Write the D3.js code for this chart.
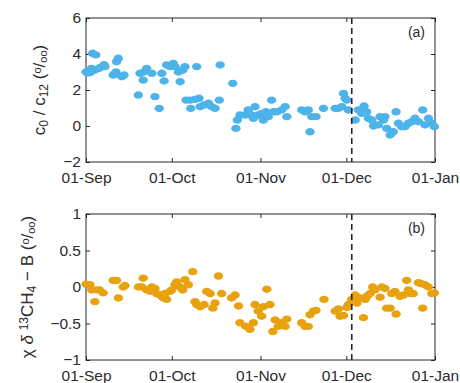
<!DOCTYPE html>
<html>
<head>
<meta charset="utf-8">
<script src="https://cdn.jsdelivr.net/npm/d3@7"></script>
<style>
  body { margin: 0; background: #fff; }
  svg text { font-family: "Liberation Sans", Arial, sans-serif; fill: #2b2b2b; }
  .axis path, .axis line { stroke: #262626; }
</style>
</head>
<body>
<svg id="chart" width="460" height="383"></svg>
<script>
/************************************************ Data (days after 01-Sep) ***********************************/

var daysA = [0, 0.5, 1.4, 1.9, 2.3, 3.1, 3.4, 4.5, 4.9, 6.3, 6.6, 9.5, 10, 10.5, 10.7, 11.3, 12.5, 13.3,
  18.3, 18.9, 20, 20.3, 21.2, 23, 24.1, 25.6, 26.5, 27.3, 28.2, 29.4, 30.5, 31.1, 32.3, 32.9, 33.8, 34.6,
  35, 36.4, 36.6, 38.1, 38.7, 39.5, 39.9, 41.3, 42.8, 43.9, 45.1, 46.6, 46.9, 51.3, 52.4, 52.9, 53.8,
  55.6, 56.7, 57.9, 58.5, 59.1, 60.2, 61.4, 62, 62.9, 63.7, 64.9, 65.5, 66.7, 68.4, 69.6, 70.2,
  75.4, 76.6, 77.7, 78.3, 78.9, 80.4, 83, 87.1, 88.2, 89.4, 90, 90.6, 91.2, 91.7, 94.1, 95.2, 96.4,
  97.2, 98.1, 98.7, 99.9, 100.5, 102.2, 102.8, 104, 104.5, 105.1, 106.3, 107.4, 108.4, 109.2, 110.4,
  111.5, 112.7, 113.9, 115, 116.2, 117.7, 118.5, 119.7, 120.9, 121.8];
var valuesA = [3.0, 2.95, 2.96, 3.2, 4.04, 3.1, 3.95, 3.2, 3.25, 3.4, 3.3, 2.83, 2.9, 3.0, 3.57, 3.76, 2.74, 2.83,
  1.72, 2.93, 2.55, 3.0, 3.2, 2.93, 1.63, 0.98, 2.93, 2.5, 3.39, 3.3, 3.48, 3.3, 3.0, 2.46, 3.1, 3.3,
  1.44, 1.44, 0.98, 1.48, 3.3, 1.54, 1.07, 1.17, 1.26, 1.07, 0.98, 1.44, 3.39, 2.37, -0.13, 0.33, 0.61,
  0.61, 0.89, 0.61, 0.43, 1.07, 0.61, 0.7, 0.33, 0.79, 0.52, 1.44, 0.79, 0.79, 0.89, 1.07, 0.52,
  0.89, 0.79, 0.89, -0.32, 0.52, 0.52, 0.98, 0.98, 0.98, 1.07, 1.81, 1.54, 1.44, 0.89, 0.33, 0.89, 0.7,
  1.11, 0.79, 0.43, 0.33, 0.0, 0.06, 0.52, 0.33, 0.52, -0.13, -0.5, -0.32, 0.79, 0.15, -0.04,
  -0.04, 0.15, 0.24, 0.43, 0.24, 0.89, 0.06, 0.43, 0.15, -0.04];

var daysB = [0, 1.4, 2, 3.1, 3.7, 4.7, 6, 9.5, 10.7, 11.3, 13, 13.6, 18.3, 19.5, 20, 21.2, 22.4, 23, 24.1,
  24.7, 25.9, 27, 27.6, 28.2, 29.4, 30, 31.1, 31.7, 32.9, 33.8, 34.6, 35.8, 37.3, 38.1, 38.7, 39.9, 41.3,
  42.2, 43.4, 44.3, 45.1, 46.3, 47.4, 50.9, 52.1, 53.3, 53.8, 55.9, 57.3, 58.5, 59.1, 60.2, 61.4, 62,
  63.2, 64.3, 65.3, 66.1, 67.2, 68.4, 69.6, 70.2, 75.4, 76.6, 77.7, 78.3, 79.5, 80.4, 83.2, 87.1, 88.2,
  88.8, 90, 91.2, 91.7, 92.9, 94.1, 94.7, 95.8, 97, 97.6, 98.4, 99.3, 100.2, 101, 102.8, 103.4, 104.5,
  105.1, 106.3, 106.9, 108, 108.4, 109.8, 110.9, 112.1, 112.7, 113.5, 114.4, 116.2, 117, 117.7, 118.5,
  119.7, 120.9, 121.8];
var valuesB = [0.04, 0.03, -0.04, -0.2, -0.04, -0.04, -0.08, 0.09, 0.09, -0.15, 0.0, 0.02, 0.0, 0.0, 0.12, -0.04, -0.06, 0.0, -0.02,
  -0.09, -0.11, -0.15, -0.09, -0.17, -0.06, -0.04, 0.03, 0.07, 0.0, -0.04, 0.1, 0.03, 0.21, -0.2, -0.24, -0.27, -0.24,
  -0.06, -0.09, -0.29, -0.22, 0.15, -0.09, -0.15, -0.11, -0.26, -0.49, -0.54, -0.58, -0.49, -0.24, -0.33, -0.4, -0.27,
  -0.03, -0.24, -0.61, -0.45, -0.54, -0.49, -0.54, -0.44, -0.49, -0.54, -0.54, -0.38, -0.33, -0.32, -0.17, -0.33, -0.3,
  -0.4, -0.39, -0.28, -0.24, -0.17, -0.11, -0.22, -0.15, -0.42, -0.17, -0.12, -0.09, 0.0, -0.04, -0.14, 0.0, -0.02,
  -0.29, -0.29, -0.09, -0.06, -0.37, -0.13, -0.11, 0.09, -0.04, -0.09, -0.09, 0.06, 0.05, -0.29, 0.03,
  0.0, -0.09, -0.08];

var eventDay = 92.9;              // dashed marker, days after 01-Sep
var yTicksA = [-2, 0, 2, 4, 6];
var yTicksB = [-1, -0.5, 0, 0.5, 1];
var start = new Date(2015, 8, 1), end = new Date(2016, 0, 1);

/************************************************ Setup ***********************************/

var svg = d3.select('#chart');
var left = 86, right = 435;
var toDate = function(d){ return start.getTime() + d * 864e5; };

var x = d3.scaleTime().domain([start, end]).range([left, right]);
var xTicks = d3.timeMonth.range(start, d3.timeDay.offset(end, 1));

function panel(top, bottom, yDomain, yTicks, days, values, color, tag, yFmt) {
    var y = d3.scaleLinear().domain(yDomain).range([bottom, top]);

    // axes with inward ticks on all four sides
    svg.append('g').attr('class', 'axis').attr('transform', 'translate(0,' + bottom + ')')
        .call(d3.axisBottom(x).tickValues(xTicks).tickSize(-4).tickPadding(10).tickFormat(d3.timeFormat('%d-%b')))
        .call(function(g){ g.select('.domain').remove(); g.selectAll('text').style('font-size', '15.5px'); });
    svg.append('g').attr('class', 'axis').attr('transform', 'translate(0,' + top + ')')
        .call(d3.axisTop(x).tickValues(xTicks).tickSize(-4).tickFormat(''))
        .call(function(g){ g.select('.domain').remove(); });
    svg.append('g').attr('class', 'axis').attr('transform', 'translate(' + left + ',0)')
        .call(d3.axisLeft(y).tickValues(yTicks).tickSize(-4).tickPadding(5).tickFormat(yFmt))
        .call(function(g){ g.select('.domain').remove(); g.selectAll('text').style('font-size', '15.5px').attr('dy', '0.3em'); });
    svg.append('g').attr('class', 'axis').attr('transform', 'translate(' + right + ',0)')
        .call(d3.axisRight(y).tickValues(yTicks).tickSize(-4).tickFormat(''))
        .call(function(g){ g.select('.domain').remove(); });

    svg.append('rect').attr('x', left).attr('y', top).attr('width', right - left).attr('height', bottom - top)
        .style('fill', 'none').style('stroke', '#262626').style('stroke-width', 1);

    // points
    svg.append('g').selectAll('ellipse').data(days).enter().append('ellipse')
        .attr('cx', function(d){ return x(toDate(d)); })
        .attr('cy', function(d, i){ return y(values[i]); })
        .attr('rx', 4.7).attr('ry', 3.7)
        .style('fill', color);

    // dashed marker
    svg.append('line')
        .attr('x1', x(toDate(eventDay))).attr('x2', x(toDate(eventDay)))
        .attr('y1', top).attr('y2', bottom)
        .style('stroke', '#262626').style('stroke-width', 1.6).style('stroke-dasharray', '6,4');

    svg.append('text').attr('x', 425).attr('y', top + 19).attr('text-anchor', 'end')
        .style('font-size', '14px').text(tag);
}

panel(18, 162, [-2, 6], yTicksA, daysA, valuesA, '#4db3e9', '(a)', d3.format('d'));
panel(214, 360, [-1, 1], yTicksB, daysB, valuesB, '#e9a20f', '(b)', function(d){ return d === 0 ? '0' : d3.format('.1~f')(d).replace('-', '\u2212'); });

/************************************************ Y labels ***********************************/

function addPart(t, s, shift, size, italic) {
    var sp = t.append('tspan').text(s);
    if (shift) sp.attr('baseline-shift', shift);
    if (size) sp.style('font-size', size);
    if (italic) sp.style('font-style', 'italic');
    return sp;
}

var labA = svg.append('text').attr('transform', 'translate(45,90) rotate(-90)')
    .attr('text-anchor', 'middle').style('font-size', '17px');
addPart(labA, 'c');
addPart(labA, '0', '-25%', '12px');
addPart(labA, ' / c');
addPart(labA, '12', '-25%', '12px');
addPart(labA, ' (');
addPart(labA, 'o', '40%', '11px');
addPart(labA, '/');
addPart(labA, 'oo', '-20%', '11px');
addPart(labA, ')');

var labB = svg.append('text').attr('transform', 'translate(33,287) rotate(-90)')
    .attr('text-anchor', 'middle').style('font-size', '17px');
addPart(labB, '\u03c7 ');
addPart(labB, '\u03b4', null, null, true);
addPart(labB, ' ');
addPart(labB, '13', '40%', '12px');
addPart(labB, 'CH');
addPart(labB, '4', '-25%', '12px');
addPart(labB, ' \u2212 B (');
addPart(labB, 'o', '40%', '11px');
addPart(labB, '/');
addPart(labB, 'oo', '-20%', '11px');
addPart(labB, ')');
</script>
</body>
</html>
